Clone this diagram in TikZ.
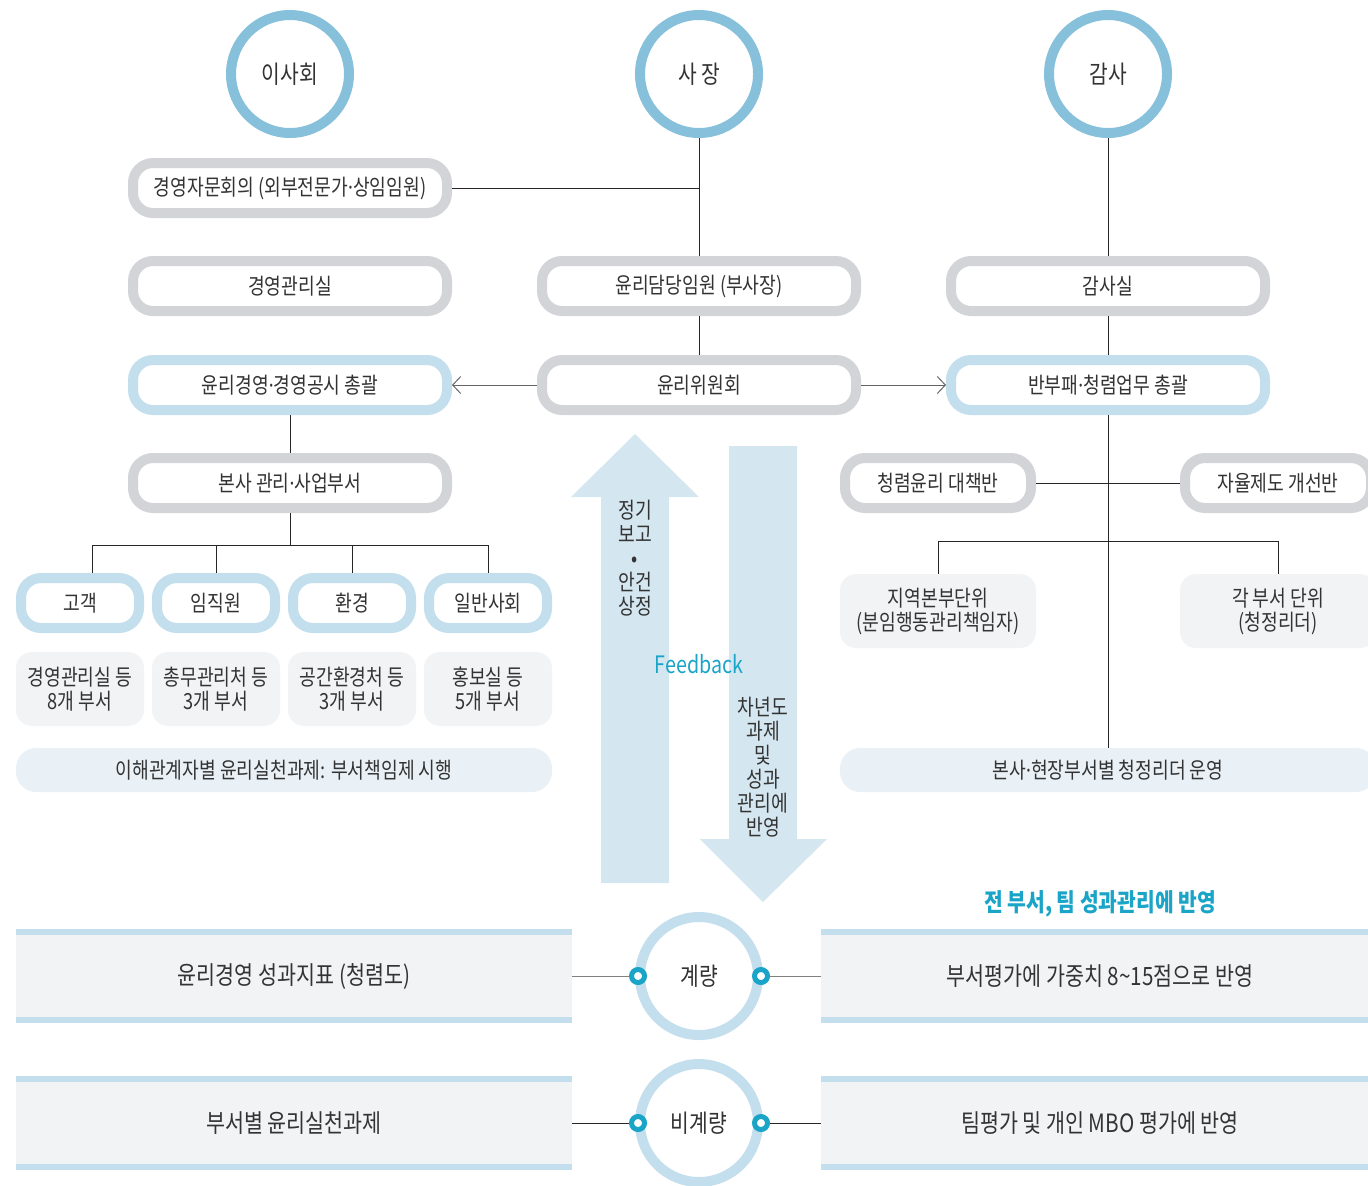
\documentclass[tikz,border=0pt]{standalone}
\usepackage{fontspec}
\setmainfont{Noto Sans CJK KR}[FakeStretch=0.82]
\newfontfamily\latinfont{Noto Sans}[FakeStretch=0.82]
\newcommand{\mdot}{{\latinfont ·}}
\usepackage{tikz}
\usetikzlibrary{arrows.meta,positioning}

\definecolor{ringgray}{HTML}{D3D4D8}
\definecolor{ringblue}{HTML}{C3DEEC}
\definecolor{topblue}{HTML}{86C0DA}
\definecolor{boxgray}{HTML}{F2F3F5}
\definecolor{bandblue}{HTML}{EAF1F6}
\definecolor{arrowblue}{HTML}{D4E6F0}
\definecolor{accent}{HTML}{1AA5C8}
\definecolor{textgray}{HTML}{333333}

\begin{document}
\begin{tikzpicture}[
    x=0.5pt, y=-0.5pt,
    every node/.style={text=textgray, font=\fontsize{11.1}{12}\selectfont},
    head/.style={circle, draw=topblue, line width=5pt, fill=white, minimum size=59pt, inner sep=0pt, font=\fontsize{12.4}{12}\selectfont},
    measure/.style={head, draw=ringblue},
    ring/.style={draw=ringgray, line width=5pt, fill=white, rounded corners=10pt, minimum width=157pt, minimum height=25pt, inner sep=0pt},
    bluering/.style={ring, draw=ringblue},
    shortring/.style={ring, minimum width=93pt},
    keyring/.style={bluering, minimum width=59pt},
    infobox/.style={fill=boxgray, rounded corners=8pt, minimum width=64pt, minimum height=37pt, align=center, inner sep=0pt},
    wideinfo/.style={infobox, minimum width=98pt},
    summary/.style={fill=bandblue, rounded corners=10pt, minimum width=268pt, minimum height=22pt, inner sep=0pt},
    band/.style={fill=boxgray, minimum width=278pt, minimum height=47pt, inner sep=0pt, font=\fontsize{12.6}{12}\selectfont},
    port/.style={circle, draw=accent, line width=2.5pt, fill=white, minimum size=6.5pt, inner sep=0pt},
    link/.style={draw=black!85, line width=0.5pt},
    arrow/.style={draw=black!60, line width=0.5pt, -{Straight Barb[length=4pt, width=8.5pt]}},
    bigarrow/.style={fill=arrowblue},
    accenttext/.style={text=accent, font=\fontsize{12.4}{12}\selectfont\bfseries}
]
\clip (0,0) rectangle (1368,1185);

% top of the organisation
\node[head] (board) at (290,74) {이사회};
\node[head] (ceo) at (699,74) {사 장};
\node[head] (audit) at (1108,74) {감사};

\node[ring] (advisory) at (290,188) {경영자문회의 (외부전문가\mdot 상임임원)};
\node[ring] (mgmt) at (290,286) {경영관리실};
\node[ring] (officer) at (699,286) {윤리담당임원 (부사장)};
\node[ring] (auditoffice) at (1108,286) {감사실};

\node[bluering] (ethicsmgmt) at (290,385) {윤리경영\mdot 경영공시 총괄};
\node[ring] (committee) at (699,385) {윤리위원회};
\node[bluering] (anticorr) at (1108,385) {반부패\mdot 청렴업무 총괄};

\node[ring] (hq) at (290,483) {본사 관리\mdot 사업부서};
\node[shortring] (taskforce) at (938,483) {청렴윤리 대책반};
\node[shortring] (reform) at (1278,483) {자율제도 개선반};

% stakeholders
\node[keyring] (customer) at (80,603) {고객};
\node[keyring] (staff) at (216,603) {임직원};
\node[keyring] (environ) at (352,603) {환경};
\node[keyring] (society) at (488,603) {일반사회};

\node[infobox] (customerdept) at (80,689) {경영관리실 등\\8개 부서};
\node[infobox] (staffdept) at (216,689) {총무관리처 등\\3개 부서};
\node[infobox] (environdept) at (352,689) {공간환경처 등\\3개 부서};
\node[infobox] (societydept) at (488,689) {홍보실 등\\5개 부서};
\node[summary] (stakesum) at (284,770) {이해관계자별 윤리실천과제: 부서책임제 시행};

\node[wideinfo] (region) at (938,611) {지역본부단위\\(분임행동관리책임자)};
\node[wideinfo] (unit) at (1278,611) {각 부서 단위\\(청정리더)};
\node[summary] (leadersum) at (1108,770) {본사\mdot 현장부서별 청정리더 운영};

\draw[link] (ceo) -- (officer);
\draw[link] (advisory.east) -- (advisory.east -| ceo);
\draw[link] (officer) -- (committee);
\draw[link] (audit) -- (auditoffice);
\draw[link] (auditoffice) -- (anticorr);
\draw[arrow] (committee) -- (ethicsmgmt);
\draw[arrow] (committee) -- (anticorr);
\draw[link] (ethicsmgmt) -- (hq);

\coordinate (fork) at (290,545);
\draw[link] (hq) -- (fork);
\draw[link] ([xshift=6pt]customer.north) |- (society.north |- fork) -- (society.north);
\draw[link] (staff) -- (staff |- fork);
\draw[link] (environ) -- (environ |- fork);

\coordinate (split) at (1108,541);
\draw[link] (anticorr) -- (leadersum);
\draw[link] (taskforce) -- (reform);
\draw[link] (region.north) |- (split) -| (unit.north);

% feedback arrows
\fill[bigarrow] (601,883) -- (601,497) -- (571,497) -- (635,434) -- (699,497) -- (669,497) -- (669,883) -- cycle;
\fill[bigarrow] (729,446) -- (797,446) -- (797,839) -- (827,839) -- (763,902) -- (700,839) -- (729,839) -- cycle;
\node[align=center] (report) at (635,558) {정기\\보고\\\textbullet\\안건\\상정};
\node[align=center] (plan) at (763,767) {차년도\\과제\\및\\성과\\관리에\\반영};
\node[text=accent, font=\fontsize{12}{12}\selectfont] (feedback) at (699,664) {Feedback};
\node[accenttext] (reflect) at (1100,904) {전 부서, 팀 성과관리에 반영};

% evaluation
\node[band] (kpi) at (294,976) {윤리경영 성과지표 (청렴도)};
\node[band] (deptask) at (294,1123) {부서별 윤리실천과제};
\node[band, minimum width=279pt] (weight) at (1100,976) {부서평가에 가중치 8\textasciitilde15점으로 반영};
\node[band, minimum width=279pt] (mbo) at (1100,1123) {팀평가 및 개인 MBO 평가에 반영};
\foreach \b in {kpi,deptask,weight,mbo}{
    \fill[ringblue] (\b.north west) rectangle ([yshift=-3pt]\b.north east);
    \fill[ringblue] (\b.south west) rectangle ([yshift=3pt]\b.south east);
}

\node[measure] (metric) at (699,976) {계량};
\node[measure] (nonmetric) at (699,1123) {비계량};
\node[port] (kpiport) at (638,976) {};
\node[port] (weightport) at (761,976) {};
\node[port] (taskport) at (638,1123) {};
\node[port] (mboport) at (761,1123) {};

\draw[link, draw=black!50] (kpi.east) -- (kpiport);
\draw[link, draw=black!50] (weightport) -- (weight.west);
\draw[link] (deptask.east) -- (taskport);
\draw[link] (mboport) -- (mbo.west);

\end{tikzpicture}
\end{document}
